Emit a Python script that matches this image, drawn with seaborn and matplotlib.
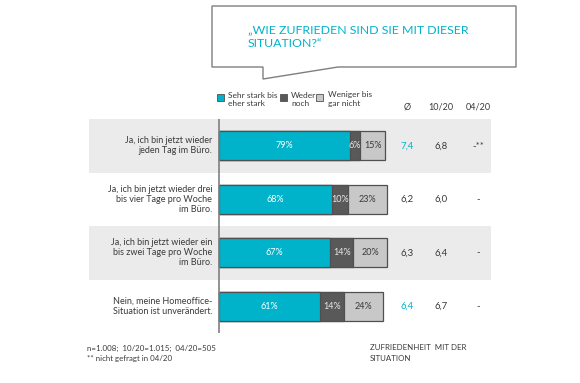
import numpy as np
import pandas as pd
import seaborn as sns
import matplotlib.pyplot as plt
from matplotlib.patches import Polygon, Rectangle

# Daten
rows = [
    "Ja, ich bin jetzt wieder\njeden Tag im Büro.",
    "Ja, ich bin jetzt wieder drei\nbis vier Tage pro Woche\nim Büro.",
    "Ja, ich bin jetzt wieder ein\nbis zwei Tage pro Woche\nim Büro.",
    "Nein, meine Homeoffice-\nSituation ist unverändert.",
]
stark = [79, 68, 67, 61]
weder = [6, 10, 14, 14]
weniger = [15, 23, 20, 24]
mittel = ["7,4", "6,2", "6,3", "6,4"]
okt20 = ["6,8", "6,0", "6,4", "6,7"]
apr20 = ["-**", "-", "-", "-"]
mittel_hl = [True, False, False, True]
legend_labels = ["Sehr stark bis\neher stark", "Weder\nnoch", "Weniger bis\ngar nicht"]

CYAN = "#00B3CB"
DARK = "#595959"
LIGHT = "#C8C8C8"
EDGE = "#505050"
TXT = "#3A3A3A"
BAND = "#EBEBEB"

W, H = 580, 383


def px(x, y):
    # Pixel (von oben links) -> Figurkoordinaten
    return x / W, 1 - y / H


sns.set_theme(style="white")
plt.rcParams["font.family"] = ["Lato", "DejaVu Sans"]

fig = plt.figure(figsize=(5.8, 3.83), dpi=100)

# Achse für Balkenbereich
ax_l, ax_t, ax_r, ax_b = 89, 119, 491, 333
ax = fig.add_axes([ax_l / W, 1 - ax_b / H, (ax_r - ax_l) / W, (ax_b - ax_t) / H])
scale = 1.66  # px pro Prozent

# graue Hintergrundbänder
for i in range(len(rows)):
    if i % 2 == 0:
        ax.axhspan(i - 0.5, i + 0.5, color=BAND, zorder=0, lw=0)

df = pd.DataFrame({
    "row": rows,
    "stark": stark,
    "weder": weder,
    "weniger": weniger,
})
df["c1"] = df["stark"]
df["c2"] = df["stark"] + df["weder"]
df["c3"] = df["c2"] + df["weniger"]

order = list(range(len(rows)))
df["pos"] = order
bh = 0.54
# gestapelt: Summen von hinten nach vorne zeichnen
for col, color in [("c3", LIGHT), ("c2", DARK), ("c1", CYAN)]:
    sns.barplot(data=df, x=col, y="pos", orient="h", order=order, color=color,
                width=bh, edgecolor=EDGE, linewidth=0.9, saturation=1, ax=ax,
                native_scale=True)
ax.set_xlim((ax_l - 219) / scale, (ax_r - 219) / scale)
ax.set_ylim(3.5, -0.5)
ax.axis("off")

ax.axvline(0, color="#808080", lw=1.2, zorder=5)

fs = 6.5
for i in range(len(rows)):
    ax.text(-4, i, rows[i], ha="right", va="center", fontsize=fs, color=TXT,
            linespacing=1.15)
    ax.text(stark[i] / 2, i, f"{stark[i]}%", ha="center", va="center",
            fontsize=fs, color="white", zorder=6)
    ax.text(stark[i] + weder[i] / 2, i, f"{weder[i]}%", ha="center", va="center",
            fontsize=fs, color="#E8E8E8", zorder=6)
    ax.text(stark[i] + weder[i] + weniger[i] / 2, i, f"{weniger[i]}%",
            ha="center", va="center", fontsize=fs, color=TXT, zorder=6)
    ax.text((407 - 219) / scale, i, mittel[i], ha="center", va="center",
            fontsize=fs + 0.4, color=CYAN if mittel_hl[i] else TXT)
    ax.text((441 - 219) / scale, i, okt20[i], ha="center", va="center",
            fontsize=fs + 0.4, color=TXT)
    ax.text((478 - 219) / scale, i, apr20[i], ha="center", va="center",
            fontsize=fs + 0.4, color=TXT)

hy = -0.5 - 7 / 53.5
for x, t in [(407, "Ø"), (441, "10/20"), (478, "04/20")]:
    ax.text((x - 219) / scale, hy, t, ha="center", va="bottom",
            fontsize=fs, color=TXT)

# Legende
for (sx, tx), lab, color in zip([(220, 228), (283, 291), (319, 328)],
                                legend_labels, [CYAN, DARK, LIGHT]):
    x0, y0 = px(sx - 3.5, 101)
    fig.patches.append(Rectangle((x0, y0), 7 / W, 7 / H, transform=fig.transFigure,
                                 facecolor=color, edgecolor=EDGE, lw=0.6))
    tx0, ty0 = px(tx, 91.5)
    fig.text(tx0, ty0, lab, ha="left", va="top", fontsize=6.0, color=TXT,
             linespacing=1.3)

# Sprechblase
pts = [(212, 6), (516, 6), (516, 67), (338, 67), (263, 79), (263, 67), (212, 67)]
fig.patches.append(Polygon([px(x, y) for x, y in pts], closed=True,
                           transform=fig.transFigure, facecolor="white",
                           edgecolor="#7F7F7F", lw=1.0))
tx0, ty0 = px(248, 24)
fig.text(tx0, ty0, "„WIE ZUFRIEDEN SIND SIE MIT DIESER\nSITUATION?“", ha="left",
         va="top", fontsize=8.9, color=CYAN, linespacing=1.3)

# Fußnoten
tx0, ty0 = px(87, 344.5)
fig.text(tx0, ty0, "n=1.008;  10/20=1.015;  04/20=505\n** nicht gefragt in 04/20",
         ha="left", va="top", fontsize=5.7, color=TXT, linespacing=1.55)
tx0, ty0 = px(370, 344.5)
fig.text(tx0, ty0, "ZUFRIEDENHEIT  MIT DER\nSITUATION", ha="left", va="top",
         fontsize=5.7, color=TXT, linespacing=1.55)

fig.savefig("out.png", dpi=100)
